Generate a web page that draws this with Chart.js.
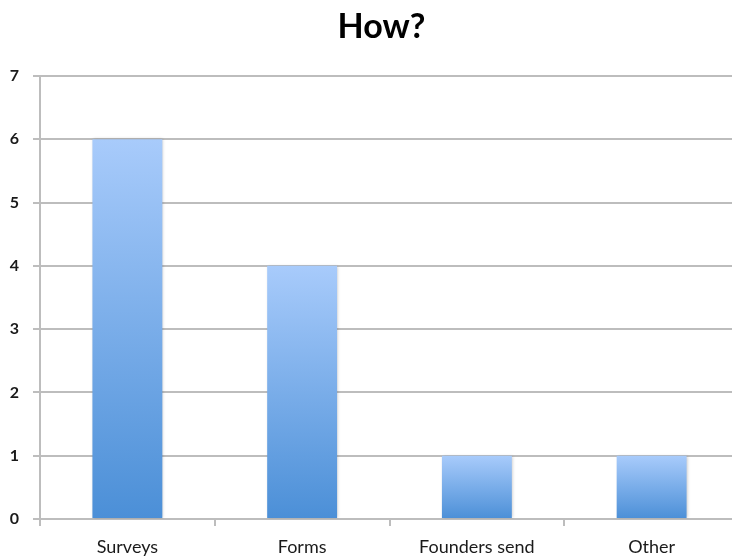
<!DOCTYPE html>
<html>
<head>
<meta charset="utf-8">
<script src="https://cdn.jsdelivr.net/npm/chart.js@4/dist/chart.umd.min.js"></script>
<style>
  html, body { margin: 0; padding: 0; background: #fff; overflow: hidden; }
  #wrap { width: 739px; height: 556px; }
</style>
</head>
<body>
<div id="wrap"><canvas id="c" width="739" height="556"></canvas></div>
<script>
const categories = ["Surveys", "Forms", "Founders send", "Other"];
const counts = [6, 4, 1, 1];
const yTicks = [0, 1, 2, 3, 4, 5, 6, 7];

const FONT = "Lato, 'Open Sans', 'DejaVu Sans', sans-serif";

// Vertical blue gradient spanning each bar from its top to the baseline
function barFill(ctx) {
  const chart = ctx.chart;
  const y = chart.scales && chart.scales.y;
  if (!y || ctx.parsed == null || !chart.chartArea) return '#7aaeea';
  const top = y.getPixelForValue(ctx.parsed.y);
  const base = y.getPixelForValue(0);
  if (!isFinite(top) || !isFinite(base) || top === base) return '#7aaeea';
  const g = chart.ctx.createLinearGradient(0, top, 0, base);
  g.addColorStop(0, '#a8cbfb');
  g.addColorStop(1, '#4b8fd7');
  return g;
}

// Soft drop shadow behind the bars
const barShadow = {
  id: 'barShadow',
  beforeDatasetsDraw(chart) {
    const c = chart.ctx;
    c.save();
    c.shadowColor = 'rgba(0,0,0,0.22)';
    c.shadowBlur = 3;
    c.shadowOffsetX = 1;
    c.shadowOffsetY = 0;
  },
  afterDatasetsDraw(chart) {
    chart.ctx.restore();
  }
};

// Centre the title a little right of the canvas middle, over the plot
const titleShift = {
  id: 'titleShift',
  afterLayout(chart) {
    const tb = chart.titleBlock;
    if (tb) tb.left = 24;
  }
};

new Chart(document.getElementById('c'), {
  type: 'bar',
  data: {
    labels: categories,
    datasets: [{
      data: counts,
      backgroundColor: barFill,
      borderWidth: 0,
      categoryPercentage: 1,
      barPercentage: 0.4
    }]
  },
  options: {
    responsive: false,
    animation: false,
    layout: { padding: 0 },
    plugins: {
      legend: { display: false },
      tooltip: { enabled: false },
      title: {
        display: true,
        text: 'How?',
        color: '#000',
        font: { family: FONT, size: 34, weight: 'bold', lineHeight: 1.2 },
        padding: { top: 6.6, bottom: 28.6 }
      }
    },
    scales: {
      x: {
        offset: true,
        afterFit(s) { s.height = 37; },
        border: { color: '#bdbdbd', width: 2 },
        grid: {
          offset: true,
          drawOnChartArea: false,
          drawTicks: true,
          tickLength: 7,
          color: '#bdbdbd',
          lineWidth: 2
        },
        ticks: {
          color: '#1a1a1a',
          padding: 10,
          font: { family: FONT, size: 18 }
        }
      },
      y: {
        min: 0,
        max: 7,
        afterFit(s) { s.width = 40; },
        afterBuildTicks(s) { s.ticks = yTicks.map(v => ({ value: v })); },
        border: { color: '#bdbdbd', width: 2 },
        grid: {
          color: '#bdbdbd',
          lineWidth: 2,
          tickLength: 7
        },
        ticks: {
          color: '#1a1a1a',
          padding: 14,
          font: { family: FONT, size: 16, weight: 'bold' }
        }
      }
    }
  },
  plugins: [barShadow, titleShift]
});
</script>
</body>
</html>
